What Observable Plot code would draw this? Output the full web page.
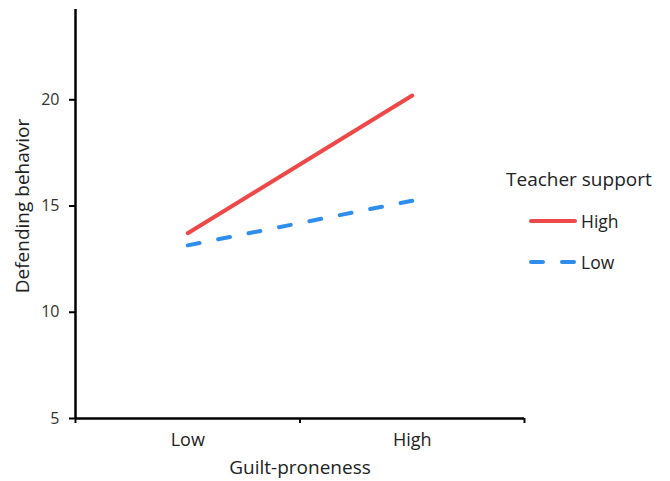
<!DOCTYPE html>
<html><head><meta charset="utf-8">
<script src="https://cdn.jsdelivr.net/npm/d3@7"></script>
<script src="https://cdn.jsdelivr.net/npm/@observablehq/plot@0.6"></script>
<style>
body{margin:0;background:#fff;}
#wrap{position:relative;width:670px;height:481px;font-family:"Open Sans","Noto Sans",sans-serif;}
</style></head><body><div id="wrap"></div>
<script>
const guiltLevels = ["Low", "High"];
const supportLevels = ["High", "Low"];
const highSupport = [13.72, 20.2];
const lowSupport = [13.15, 15.25];
const yTicks = [5, 10, 15, 20];
const seriesColors = ["#ef4848", "#2f8eed"];
const seriesDash = [null, "12,19"];

const rows = [];
guiltLevels.forEach((g, i) => {
  rows.push({support: "High", gi: i + 1, v: highSupport[i]});
  rows.push({support: "Low", gi: i + 1, v: lowSupport[i]});
});

const font = '"Open Sans","Noto Sans",sans-serif';
const plot = Plot.plot({
  width: 670, height: 481,
  marginLeft: 75, marginRight: 146, marginTop: 9, marginBottom: 63,
  style: {fontFamily: font, background: "#fff"},
  x: {domain: [0.5, 2.5]},
  y: {domain: [5, 24.25]},
  marks: [
    ...supportLevels.map((s, k) => Plot.line(rows.filter(d => d.support === s), {
      x: "gi", y: "v", stroke: seriesColors[k], strokeWidth: 4,
      strokeLinecap: "round", strokeDasharray: seriesDash[k]
    })),
    Plot.axisY({ticks: yTicks, tickSize: 6, tickPadding: 10, fontSize: 16, label: null,
      color: "#333", stroke: "#000", strokeWidth: 2, strokeOpacity: 1}),
    Plot.axisX({ticks: [0.5, 1.5, 2.5], tickFormat: () => "", tickSize: 5, label: null,
      stroke: "#000", strokeWidth: 2, strokeOpacity: 1}),
    Plot.axisX({ticks: [1, 2], tickFormat: i => guiltLevels[i - 1], tickSize: 0, tickPadding: 15,
      fontSize: 18, label: null, color: "#222"}),
    Plot.ruleX([0.5], {stroke: "#000", strokeWidth: 2.5}),
    Plot.ruleY([5], {stroke: "#000", strokeWidth: 2.5})
  ]
});
document.getElementById("wrap").appendChild(plot);

const svg = d3.select(plot);
svg.append("text").attr("x", 300).attr("y", 467).attr("text-anchor", "middle")
  .attr("dominant-baseline", "central").attr("font-size", 19).attr("fill", "#222")
  .attr("font-family", font).text("Guilt-proneness");
svg.append("text").attr("transform", "translate(22,206) rotate(-90)").attr("text-anchor", "middle")
  .attr("dominant-baseline", "central").attr("font-size", 19).attr("fill", "#222")
  .attr("font-family", font).text("Defending behavior");

const lg = svg.append("g").attr("font-family", font).attr("text-anchor", "start");
lg.append("text").attr("x", 506).attr("y", 178.5).attr("dominant-baseline", "central")
  .attr("font-size", 19).attr("fill", "#222").text("Teacher support");
supportLevels.forEach((s, k) => {
  const y = 221 + k * 41;
  lg.append("line").attr("x1", 531).attr("x2", 575).attr("y1", y).attr("y2", y)
    .attr("stroke", seriesColors[k]).attr("stroke-width", 4).attr("stroke-linecap", "round")
    .attr("stroke-dasharray", seriesDash[k]);
  lg.append("text").attr("x", 581).attr("y", y).attr("dominant-baseline", "central")
    .attr("font-size", 17.5).attr("fill", "#222").text(s);
});
</script></body></html>
